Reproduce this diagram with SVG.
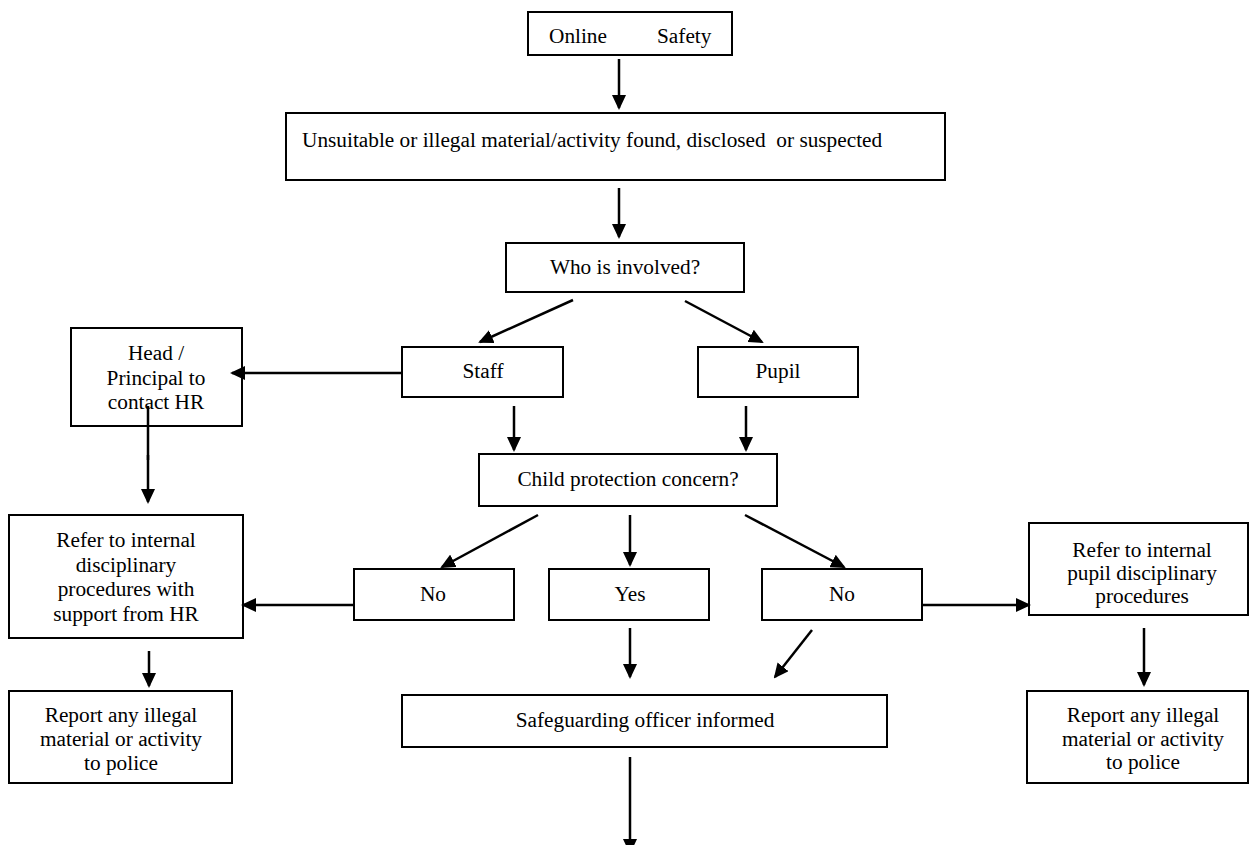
<svg xmlns="http://www.w3.org/2000/svg" width="1249" height="845" viewBox="0 0 1249 845">
<style>
rect{fill:#fff;stroke:#000;stroke-width:2}
text{font-family:"Liberation Serif","Times New Roman",serif;font-size:21.3px;fill:#000;white-space:pre}
.c{text-anchor:middle}
#connectors line{stroke:#000;stroke-width:2.5;marker-end:url(#ah)}
#connectors line.plain{marker-end:none}
</style>
<defs>
<marker id="ah" markerUnits="userSpaceOnUse" viewBox="0 0 15 14" refX="13" refY="7" markerWidth="15" markerHeight="14" orient="auto">
<path d="M0,0 L15,7 L0,14 z" fill="#000"/>
</marker>
</defs>
<rect x="0" y="0" width="1249" height="845" style="stroke:none"/>
<g id="online"><rect x="528" y="12" width="204" height="43"/><text y="43"><tspan x="549">Online</tspan><tspan x="657">Safety</tspan></text></g>
<g id="found"><rect x="286" y="113" width="659" height="67"/><text x="302" y="147">Unsuitable or illegal material/activity found, disclosed  or suspected</text></g>
<g id="who"><rect x="506" y="243" width="238" height="49"/><text class="c" x="625" y="274">Who is involved?</text></g>
<g id="staff"><rect x="402" y="347" width="161" height="50"/><text class="c" x="483" y="378">Staff</text></g>
<g id="pupil"><rect x="698" y="347" width="160" height="50"/><text class="c" x="778" y="378">Pupil</text></g>
<g id="head"><rect x="71" y="328" width="171" height="98"/><text class="c" x="156" y="360">Head /<tspan x="156" dy="24.5">Principal to</tspan><tspan x="156" dy="24.5">contact HR</tspan></text></g>
<g id="child"><rect x="479" y="454" width="298" height="52"/><text class="c" x="628" y="486">Child protection concern?</text></g>
<g id="refer-staff"><rect x="9" y="515" width="234" height="123"/><text class="c" x="126" y="547">Refer to internal<tspan x="126" dy="24.5">disciplinary</tspan><tspan x="126" dy="24.5">procedures with</tspan><tspan x="126" dy="24.5">support from HR</tspan></text></g>
<g id="no-left"><rect x="354" y="569" width="160" height="51"/><text class="c" x="433" y="601">No</text></g>
<g id="yes"><rect x="549" y="569" width="160" height="51"/><text class="c" x="630" y="601">Yes</text></g>
<g id="no-right"><rect x="762" y="569" width="160" height="51"/><text class="c" x="842" y="601">No</text></g>
<g id="refer-pupil"><rect x="1029" y="523" width="219" height="92"/><text class="c" x="1142" y="557">Refer to internal<tspan x="1142" dy="23">pupil disciplinary</tspan><tspan x="1142" dy="23">procedures</tspan></text></g>
<g id="report-left"><rect x="9" y="691" width="223" height="92"/><text class="c" x="121" y="722">Report any illegal<tspan x="121" dy="24">material or activity</tspan><tspan x="121" dy="24">to police</tspan></text></g>
<g id="safeguarding"><rect x="402" y="695" width="485" height="52"/><text class="c" x="645" y="727">Safeguarding officer informed</text></g>
<g id="report-right"><rect x="1027" y="691" width="221" height="92"/><text class="c" x="1143" y="722">Report any illegal<tspan x="1143" dy="23.5">material or activity</tspan><tspan x="1143" dy="23.5">to police</tspan></text></g>
<g id="connectors">
<line x1="619" y1="59" x2="619" y2="108"/>
<line x1="619" y1="188" x2="619" y2="237"/>
<line x1="573" y1="300" x2="480" y2="342"/>
<line x1="685" y1="301" x2="762" y2="342"/>
<line x1="402" y1="373" x2="232" y2="373"/>
<line class="plain" x1="148" y1="406" x2="148" y2="460"/>
<line x1="148" y1="455" x2="148" y2="502"/>
<line x1="514" y1="406" x2="514" y2="450"/>
<line x1="746" y1="406" x2="746" y2="450"/>
<line x1="538" y1="515" x2="442" y2="567"/>
<line x1="630" y1="515" x2="630" y2="565"/>
<line x1="745" y1="515" x2="844" y2="567"/>
<line x1="354" y1="605" x2="243" y2="605"/>
<line x1="922" y1="605" x2="1029" y2="605"/>
<line x1="149" y1="651" x2="149" y2="686"/>
<line x1="1144" y1="628" x2="1144" y2="685"/>
<line x1="630" y1="628" x2="630" y2="677"/>
<line x1="812" y1="630" x2="775" y2="677"/>
<line x1="630" y1="757" x2="630" y2="852"/>
</g>
</svg>
